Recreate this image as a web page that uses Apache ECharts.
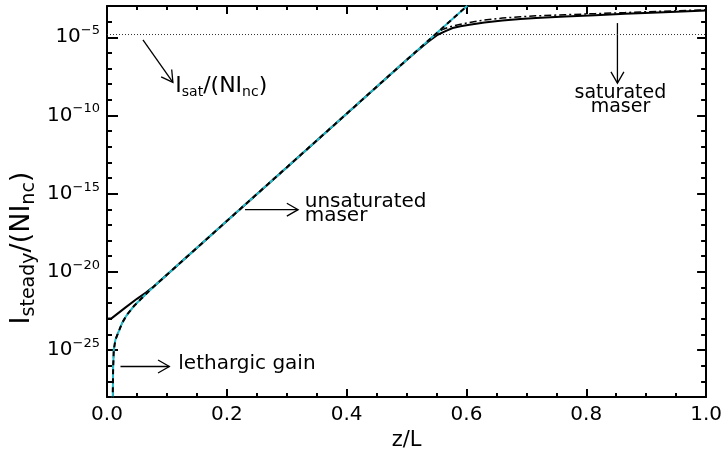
<!DOCTYPE html>
<html><head><meta charset="utf-8">
<script src="https://cdn.jsdelivr.net/npm/echarts@6/dist/echarts.min.js"></script>
<style>html,body{margin:0;padding:0;background:#fff}#c{width:725px;height:461px}</style>
</head><body><div id="c"></div>
<script>
const FONT = '"DejaVu Sans", sans-serif';

// ---- data (z/L and I_steady/(N I_nc)) ----
const zSolid = [0, 0.0075, 0.03, 0.05, 0.065, 0.08, 0.1, 0.2, 0.3, 0.4, 0.5, 0.52, 0.535, 0.552, 0.565, 0.577, 0.59, 0.605, 0.63, 0.66, 0.69, 0.716, 0.765, 0.815, 0.865, 0.93, 1.0];
const iSolid = [1.0e-23, 1.07e-23, 5.0e-23, 1.9e-22, 4.7e-22, 1.35e-21, 6.6e-21, 1.78e-17, 4.8e-14, 1.29e-10, 3.5e-7, 1.6e-6, 4.8e-6, 1.45e-5, 2.5e-5, 3.9e-5, 5.1e-5, 6.3e-5, 8.9e-5, 1.17e-4, 1.45e-4, 1.7e-4, 2.14e-4, 2.6e-4, 3.16e-4, 3.98e-4, 5.13e-4];

const zLeth = [0.0094, 0.0096, 0.0102, 0.0113, 0.0141, 0.0196, 0.0253, 0.0336, 0.0446, 0.0557, 0.0669, 0.08, 0.1, 0.2, 0.3, 0.4, 0.5, 0.55, 0.6, 0.62];
const iLeth = [1e-30, 1e-28, 6.3e-27, 1e-25, 4.7e-25, 1.58e-24, 5.5e-24, 1.86e-23, 6.3e-23, 1.7e-22, 4.47e-22, 1.35e-21, 6.6e-21, 1.78e-17, 4.8e-14, 1.29e-10, 3.5e-7, 1.78e-5, 9.3e-4, 4.5e-3];

const zDashDot = [0.0094, 0.0096, 0.0102, 0.0113, 0.0141, 0.0196, 0.0253, 0.0336, 0.0446, 0.0557, 0.0669, 0.08, 0.1, 0.2, 0.3, 0.4, 0.5, 0.54, 0.55, 0.56, 0.57, 0.58, 0.605, 0.63, 0.66, 0.69, 0.716, 0.765, 0.815, 0.865, 0.93, 1.0];
const iDashDot = [1e-30, 1e-28, 6.3e-27, 1e-25, 4.7e-25, 1.58e-24, 5.5e-24, 1.86e-23, 6.3e-23, 1.7e-22, 4.47e-22, 1.35e-21, 6.6e-21, 1.78e-17, 4.8e-14, 1.29e-10, 3.5e-7, 8.1e-6, 1.74e-5, 3.16e-5, 4.4e-5, 5.6e-5, 8.9e-5, 1.26e-4, 1.7e-4, 2.05e-4, 2.34e-4, 2.75e-4, 3.25e-4, 3.8e-4, 4.7e-4, 5.75e-4];

const iSat = 1.5e-5;
const zSatSpan = [0, 1];

// ---- axes ----
const xMin = 0, xMax = 1, xInterval = 0.2;
const yMin = 1e-28, yMax = 1e-3;
const yMajorTicks = [1e-25, 1e-20, 1e-15, 1e-10, 1e-5];
const yMinorTicks = [1e-27, 1e-26, 1e-24, 1e-23, 1e-22, 1e-21, 1e-19, 1e-18, 1e-17, 1e-16, 1e-14, 1e-13, 1e-12, 1e-11, 1e-9, 1e-8, 1e-7, 1e-6, 1e-4];

// ---- annotations (data coordinates) ----
const annArrows = [
  { from: [0.060, 6.9e-6], to: [0.110, 1.3e-8] },
  { from: [0.0225, 8.9e-27], to: [0.104, 8.9e-27] },
  { from: [0.2304, 9.5e-17], to: [0.319, 9.5e-17] },
  { from: [0.852, 8.1e-5], to: [0.852, 1.17e-8] }
];
const annTexts = [
  { at: [0.114, 7.9e-9], text: '{m|I}{s|sat}{m|/(NI}{s|nc}{m|)}', align: 'left', size: 20 },
  { at: [0.119, 1.38e-26], text: 'lethargic gain', align: 'left', size: 20 },
  { at: [0.330, 1.1e-16], text: 'unsaturated\nmaser', align: 'left', size: 20 },
  { at: [0.857, 1.02e-9], text: 'saturated\nmaser', align: 'center', size: 19 }
];

const chart = echarts.init(document.getElementById('c'), null, { renderer: 'canvas' });
const black = '#000';
const tickStyle = { color: black, width: 2 };

function yAxisDef(pos, ticks, len, withLine, withLabel) {
  return {
    type: 'log', logBase: 10, min: yMin, max: yMax, position: pos,
    splitLine: { show: false }, minorTick: { show: false }, minorSplitLine: { show: false },
    axisLine: { show: withLine, onZero: false, lineStyle: { color: black, width: 2 } },
    axisTick: { show: true, inside: true, length: len, customValues: ticks, lineStyle: tickStyle },
    axisLabel: withLabel ? {
      show: true, customValues: ticks, margin: 7,
      formatter: v => { const e = Math.round(Math.log10(v)); return '{b|10}{s|' + (e < 0 ? '\u2212' : '') + Math.abs(e) + '}'; },
      rich: {
        b: { fontSize: 20, fontFamily: FONT, color: black, lineHeight: 26 },
        s: { fontSize: 13, fontFamily: FONT, color: black, lineHeight: 12, verticalAlign: 'top' }
      }
    } : { show: false }
  };
}
function xAxisDef(pos, withLabel) {
  return {
    type: 'value', min: xMin, max: xMax, interval: xInterval, position: pos,
    splitLine: { show: false }, minorSplitLine: { show: false },
    axisLine: { show: true, onZero: false, lineStyle: { color: black, width: 2 } },
    axisTick: { show: true, inside: true, length: 8, lineStyle: tickStyle },
    minorTick: { show: true, splitNumber: 4, length: 4, lineStyle: tickStyle },
    axisLabel: withLabel ? { show: true, fontSize: 20, fontFamily: FONT, color: black, margin: 8, showMinLabel: true, showMaxLabel: true, formatter: v => v.toFixed(1) } : { show: false },
    name: withLabel ? 'z/L' : '', nameLocation: 'middle', nameGap: 30,
    nameTextStyle: { fontSize: 21, fontFamily: FONT, color: black }
  };
}

function pairs(zs, vs) { return zs.map((z, i) => [z, vs[i]]); }

const option = {
  animation: false,
  backgroundColor: '#fff',
  textStyle: { fontFamily: FONT },
  grid: { left: 107, right: 17, top: 6, bottom: 64, containLabel: false },
  xAxis: [xAxisDef('bottom', true), xAxisDef('top', false)],
  yAxis: [
    yAxisDef('left', yMajorTicks, 11, true, true),
    yAxisDef('left', yMinorTicks, 5, false, false),
    yAxisDef('right', yMajorTicks, 9, true, false),
    yAxisDef('right', yMinorTicks, 5, false, false)
  ],
  series: [
    { type: 'line', name: 'Isat', data: zSatSpan.map(z => [z, iSat]), symbol: 'none', silent: true,
      lineStyle: { color: '#333', width: 1, type: [1, 2] } },
    { type: 'line', name: 'solid', data: pairs(zSolid, iSolid), symbol: 'none',
      lineStyle: { color: black, width: 2 } },
    { type: 'line', name: 'dashdot', data: pairs(zDashDot, iDashDot), symbol: 'none',
      lineStyle: { color: black, width: 1.5, type: [7, 3, 2, 3] } },
    { type: 'line', name: 'cyan', data: pairs(zLeth, iLeth), symbol: 'none',
      lineStyle: { color: '#22bccb', width: 2 } },
    { type: 'line', name: 'dashed', data: pairs(zLeth, iLeth), symbol: 'none',
      lineStyle: { color: black, width: 2, type: [5, 4] } }
  ]
};
chart.setOption(option);

function px(p) { return chart.convertToPixel({ xAxisIndex: 0, yAxisIndex: 0 }, p); }
const graphics = [];
annArrows.forEach(a => {
  const p0 = px(a.from), p1 = px(a.to);
  const ang = Math.atan2(p1[1] - p0[1], p1[0] - p0[0]);
  const L = 13, h = 0.52;
  const h1 = [p1[0] - L * Math.cos(ang - h), p1[1] - L * Math.sin(ang - h)];
  const h2 = [p1[0] - L * Math.cos(ang + h), p1[1] - L * Math.sin(ang + h)];
  graphics.push({ type: 'line', silent: true, shape: { x1: p0[0], y1: p0[1], x2: p1[0], y2: p1[1] }, style: { stroke: black, lineWidth: 1.3 } });
  graphics.push({ type: 'polyline', silent: true, shape: { points: [h1, p1, h2] }, style: { stroke: black, fill: null, lineWidth: 1.3 } });
});
annTexts.forEach(t => {
  const p = px(t.at);
  graphics.push({ type: 'text', silent: true, x: p[0], y: p[1], style: {
    text: t.text, fontSize: t.size, fontFamily: FONT, fill: black, align: t.align, verticalAlign: 'middle', lineHeight: 14,
    rich: {
      m: { fontSize: 22, fontFamily: FONT, fill: black, lineHeight: 28 },
      s: { fontSize: 14, fontFamily: FONT, fill: black, lineHeight: 18, verticalAlign: 'bottom' }
    }
  } });
});
// y axis title
graphics.push({ type: 'text', silent: true, x: 22, y: 248, rotation: Math.PI / 2, style: {
  text: '{m|I}{s|steady}{m|/(NI}{s|nc}{m|)}', align: 'center', verticalAlign: 'middle',
  rich: {
    m: { fontSize: 27, fontFamily: FONT, fill: black, lineHeight: 34 },
    s: { fontSize: 19, fontFamily: FONT, fill: black, lineHeight: 22, verticalAlign: 'bottom' }
  }
} });
chart.setOption({ graphic: graphics });
</script>
</body></html>
